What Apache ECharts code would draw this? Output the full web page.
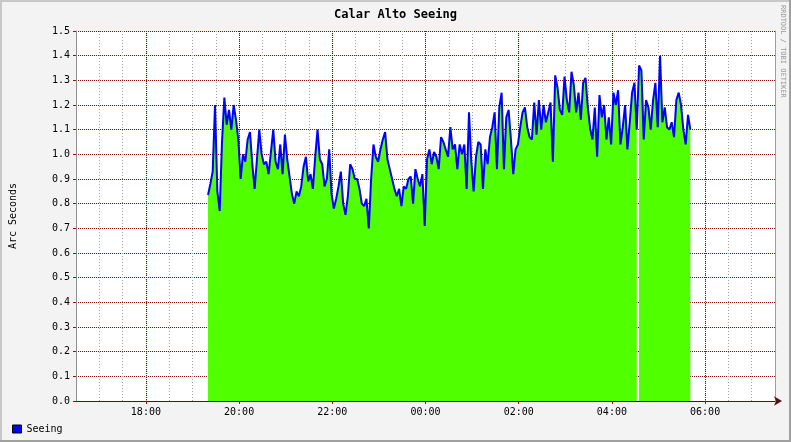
<!DOCTYPE html>
<html><head><meta charset="utf-8">
<script src="https://cdn.jsdelivr.net/npm/echarts@6/dist/echarts.min.js"></script>
<style>html,body{margin:0;padding:0;background:#f3f3f3}#c{width:791px;height:442px}</style>
</head><body><div id="c"></div>
<script>
// ---- data ----
const chartTitle = 'Calar Alto Seeing';
const yAxisName = 'Arc Seconds';
const seriesName = 'Seeing';
const axisStart = '16:30';
const axisEnd = '07:30';
const startTime = '19:20';
const stepMinutes = 3;
const gapTimes = ['04:34'];
const seeing = [
  0.835,0.88,0.93,1.20,0.85,0.77,1.05,1.23,1.12,1.18,
  1.10,1.20,1.14,1.06,0.90,1.00,0.97,1.06,1.09,0.96,
  0.86,0.98,1.10,1.00,0.96,0.97,0.92,1.01,1.10,0.97,
  0.94,1.04,0.92,1.08,0.98,0.91,0.84,0.80,0.85,0.83,
  0.87,0.95,0.99,0.89,0.92,0.86,0.99,1.10,0.98,0.96,
  0.87,0.90,
  1.02,0.84,0.78,0.82,0.87,0.93,0.80,0.755,0.83,0.96,
  0.94,0.90,0.90,0.86,0.80,0.79,0.82,0.70,0.90,1.04,
  0.99,0.97,1.02,1.06,1.09,0.98,0.94,0.90,0.86,0.83,
  0.86,0.79,0.87,0.86,0.90,0.91,0.80,0.94,0.90,0.87,
  0.92,0.71,0.98,1.02,0.96,1.01,0.99,0.94,1.07,1.05,
  1.02,
  0.99,1.11,1.02,1.04,0.94,1.04,1.00,1.04,0.86,1.17,
  0.97,0.85,0.99,1.05,1.04,0.86,1.02,0.96,1.07,1.11,
  1.17,0.94,1.19,1.25,0.94,1.15,1.18,1.06,0.92,1.02,
  1.04,1.11,1.17,1.19,1.11,1.07,1.06,1.21,1.08,1.22,
  1.10,1.20,1.13,1.17,1.21,0.97,1.32,1.27,1.18,1.16,
  1.315,1.22,
  1.17,1.335,1.28,1.17,1.25,1.14,1.29,1.31,1.19,1.105,
  1.06,1.19,0.99,1.24,1.15,1.20,1.06,1.15,1.04,1.25,
  1.20,1.26,1.04,1.11,1.20,1.02,1.13,1.25,1.29,1.10,
  1.36,1.34,1.06,1.22,1.19,1.10,1.22,1.29,1.11,1.40,
  1.13,1.19,1.11,1.10,1.13,1.07,1.22,1.25,1.20,1.10,
  1.04,1.16,1.10
];
const xTickTimes = ['18:00','20:00','22:00','00:00','02:00','04:00','06:00'];
const yMin = 0, yMax = 1.5, yStep = 0.1;

// ---- helpers ----
function toHours(s){ const [h,m] = s.split(':').map(Number); let v = h + m/60; if (v < 12) v += 24; return v; }
const t0 = toHours(startTime);
const lineData = seeing.map((v,i)=>[t0 + i*stepMinutes/60, v]);
const areaData = lineData.slice();
gapTimes.forEach(g=>{
  const gt = toHours(g);
  const k = areaData.findIndex(p=>p[0] > gt);
  areaData.splice(k, 0, [gt, null]);
});
const xTickHours = xTickTimes.map(toHours);
const labelFor = v => { const k = xTickHours.findIndex(h=>Math.abs(h-v)<1e-6); return k>=0 ? xTickTimes[k] : ''; };

const mono = 'DejaVu Sans Mono';
const red = '#8a1010';
const chart = echarts.init(document.getElementById('c'), null, {renderer:'canvas'});
chart.setOption({
  animation:false,
  backgroundColor:'#f3f3f3',
  title:{text:chartTitle,left:'center',top:4,textStyle:{fontFamily:mono,fontSize:12,fontWeight:'bold',color:'#000'}},
  legend:{data:[seriesName],left:12,top:424,padding:0,icon:'rect',itemWidth:9,itemHeight:8,
    itemStyle:{borderColor:'#000',borderWidth:1},
    textStyle:{fontFamily:mono,fontSize:10,color:'#000'}},
  grid:{left:75,right:16,top:31,bottom:41,show:true,backgroundColor:'#fff',borderWidth:0,containLabel:false},
  xAxis:[
    {type:'value',min:toHours(axisStart),max:toHours(axisEnd),interval:0.5,
     axisLine:{show:false},axisTick:{show:false},axisLabel:{show:false},
     splitLine:{show:true,lineStyle:{color:'#a0a0a0',type:[1,2],width:1}}},
    {type:'value',position:'bottom',min:toHours(axisStart),max:toHours(axisEnd),
     axisLine:{show:true,lineStyle:{color:'#5a1010',width:1},symbol:['none','arrow'],symbolSize:[7,8],symbolOffset:[0,7]},
     axisTick:{show:true,customValues:xTickHours,length:3,inside:false,lineStyle:{color:'#c00000'}},
     axisLabel:{show:true,customValues:xTickHours,formatter:labelFor,margin:6,fontFamily:mono,fontSize:10,color:'#000'},
     splitLine:{show:true,lineStyle:{color:red,type:[1,1],width:1}}}
  ],
  yAxis:[
    {type:'value',min:yMin,max:yMax,interval:yStep,
     name:yAxisName,nameLocation:'middle',nameGap:58,nameTextStyle:{fontFamily:mono,fontSize:10,color:'#000'},
     axisLine:{show:true,lineStyle:{color:'#909090'}},
     axisTick:{show:true,length:3,lineStyle:{color:'#c00000'}},
     axisLabel:{formatter:v=>v.toFixed(1),margin:6,fontFamily:mono,fontSize:10,color:'#000'},
     splitLine:{show:true,lineStyle:{color:red,type:[1,1],width:1}}},
    {type:'value',position:'right',min:yMin,max:yMax,interval:yStep,
     axisLine:{show:true,lineStyle:{color:'#a0a0a0'}},axisTick:{show:false},axisLabel:{show:false},splitLine:{show:false}}
  ],
  series:[
    {type:'line',name:'area',xAxisIndex:0,data:areaData,showSymbol:false,connectNulls:false,
     lineStyle:{width:0},areaStyle:{color:'#50ff00',opacity:1},z:2,silent:true},
    {type:'line',name:seriesName,xAxisIndex:0,data:lineData,showSymbol:false,connectNulls:true,
     color:'#0000ff',lineStyle:{color:'#0000ff',width:2},z:3}
  ],
  graphic:[
    {type:'rect',shape:{x:0,y:0,width:791,height:2},style:{fill:'#c8c8c8'},silent:true},
    {type:'rect',shape:{x:0,y:0,width:2,height:442},style:{fill:'#c8c8c8'},silent:true},
    {type:'rect',shape:{x:0,y:440,width:791,height:2},style:{fill:'#a0a0a0'},silent:true},
    {type:'rect',shape:{x:789,y:0,width:2,height:442},style:{fill:'#a0a0a0'},silent:true},
    {type:'text',x:786,y:5,rotation:-Math.PI/2,style:{text:'RRDTOOL / TOBI OETIKER',fontFamily:mono,fontSize:7,fill:'#9a9a9a'},silent:true}
  ]
});
</script></body></html>
